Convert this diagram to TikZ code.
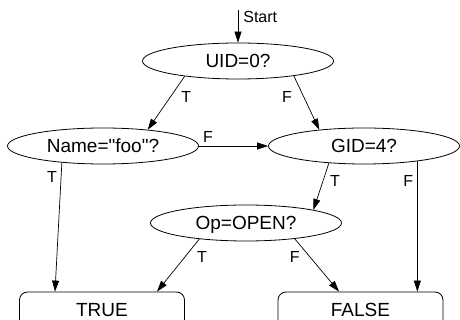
\documentclass[tikz,border=0pt]{standalone}
\usepackage{fontspec}
\setmainfont{Liberation Sans}
\usetikzlibrary{arrows.meta, shapes.geometric}

\begin{document}
\begin{tikzpicture}[x=1pt, y=1pt,
    every node/.style = {font=\fontsize{19}{22}\selectfont},
    question/.style   = {draw, ellipse, line width=0.8pt,
      minimum width=191pt, minimum height=36pt, inner sep=0pt,
      text height=13.6pt, text depth=0pt},
    answer/.style     = {draw, rounded corners=8pt, line width=0.8pt,
      minimum width=165pt, minimum height=36pt, inner sep=0pt,
      text height=13.6pt, text depth=0pt},
    flow/.style       = {-{Triangle[length=11pt,width=7pt]}, line width=0.7pt},
    lbl/.style        = {font=\fontsize{16}{19}\selectfont, inner sep=0pt}
  ]
  \useasboundingbox (0,0) rectangle (460,320);
  \coordinate (goStart) at (238,310);
  \node[question] (uidQ)  at (238,259) {UID=0?};
  \node[question] (nameQ) at (103,174) {Name=\textquotedbl foo\textquotedbl ?};
  \node[question] (gidQ)  at (364,174) {GID=4?};
  \node[question] (opQ)   at (246,97)  {Op=OPEN?};
  \node[answer] (trueBox)  at (102,10)   {TRUE};
  \node[answer] (falseBox) at (360.5,10) {FALSE};

  \draw[flow] (goStart) -- node[lbl, pos=0.21, anchor=west, xshift=5pt] {Start} (uidQ.north);
  \draw[flow] (uidQ.196) -- node[lbl, pos=0.39, xshift=16pt] {T} (nameQ.20);
  \draw[flow] (uidQ.345) -- node[lbl, pos=0.4, xshift=-17pt] {F} (gidQ.160);
  \draw[flow] (nameQ.east) -- node[lbl, pos=0.13, yshift=9pt] {F} (gidQ.west);
  \draw[flow] (nameQ.202) -- node[lbl, pos=0.11, xshift=-9pt] {T} ([xshift=-47pt]trueBox.north);
  \draw[flow] (gidQ.206) -- node[lbl, pos=0.38, xshift=12pt] {T} (opQ.11);
  \draw[flow] (gidQ.344) -- node[lbl, pos=0.15, xshift=-9pt] {F} (gidQ.344 |- falseBox.north);
  \draw[flow] (opQ.199) -- node[lbl, pos=0.34, xshift=17pt] {T} ([xshift=55pt]trueBox.north);
  \draw[flow] (opQ.342) -- node[lbl, pos=0.34, xshift=-15pt] {F} ([xshift=-21.5pt]falseBox.north);
\end{tikzpicture}
\end{document}
